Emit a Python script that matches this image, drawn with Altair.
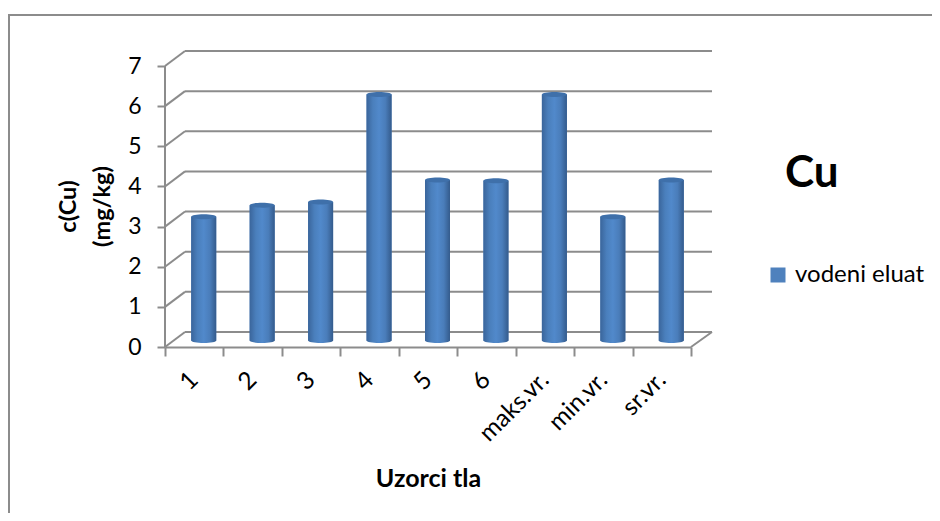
import altair as alt
import pandas as pd

categories = ["1", "2", "3", "4", "5", "6", "maks.vr.", "min.vr.", "sr.vr."]
values = [3.08, 3.37, 3.45, 6.13, 4.0, 3.98, 6.13, 3.08, 4.0]
series_name = "vodeni eluat"
grid_values = [0, 1, 2, 3, 4, 5, 6, 7]

FONT = "Lato"
GREY = "#8c8c8c"
W, H = 547, 296
FRONT_W = 526
DEPTH_X = 20
DEPTH_Y = 0.374
Y_MAX = 7.374

df = pd.DataFrame({"cat": categories, "val": values, "series": series_name, "zero": 0})

segments = []
for v in grid_values:
    segments.append({"x": DEPTH_X, "x2": W, "y": v + DEPTH_Y, "y2": v + DEPTH_Y})
    segments.append({"x": 0, "x2": DEPTH_X, "y": v, "y2": v + DEPTH_Y})
segments.append({"x": FRONT_W, "x2": W, "y": 0, "y2": DEPTH_Y})
segments.append({"x": 0, "x2": 0, "y": 0, "y2": 7})
seg = pd.DataFrame(segments)

yscale = alt.Scale(domain=[0, Y_MAX], nice=False, zero=False)
xq = alt.Scale(domain=[0, W], nice=False, zero=False)
xband = alt.Scale(type="band", domain=categories, range=[0, FRONT_W], paddingInner=0, paddingOuter=0)
yaxis = alt.Axis(
    values=grid_values, domain=False, grid=False, tickColor=GREY, tickWidth=2, tickSize=8,
    labelFont=FONT, labelFontSize=23, labelColor="#000000", labelPadding=16,
    title=["c(Cu)", "(mg/kg)"], titleFont=FONT, titleFontSize=23.5, titleFontWeight="bold",
    titleColor="#000000", titleLineHeight=34, titleX=-97, titleY=155, titleAngle=-90,
    titleAlign="center", titleBaseline="middle",
)
xaxis = alt.Axis(
    tickBand="extent", domainColor=GREY, domainWidth=2, tickColor=GREY, tickWidth=2, tickSize=9,
    grid=False, labelAngle=-45, labelAlign="right", labelBaseline="middle",
    labelFont=FONT, labelFontSize=24.5, labelColor="#000000", labelPadding=20,
    labelOverlap=False, labelBound=False, labelLimit=200,
    title="Uzorci tla", titleFont=FONT, titleFontSize=25, titleFontWeight="bold",
    titleColor="#000000", titleX=263, titleY=131, titleAlign="center", titleBaseline="middle",
)

frame = pd.DataFrame({"k": [0]})
border_top = alt.Chart(frame).mark_rule(color=GREY, strokeWidth=2).encode(
    x=alt.value(-157), x2=alt.value(775), y=alt.value(-36))
border_left = alt.Chart(frame).mark_rule(color=GREY, strokeWidth=2).encode(
    x=alt.value(-156), y=alt.value(-36), y2=alt.value(470))

rules = alt.Chart(seg).mark_rule(color=GREY, strokeWidth=2).encode(
    x=alt.X("x:Q", scale=xq, axis=None), x2="x2:Q",
    y=alt.Y("y:Q", scale=yscale, axis=yaxis), y2="y2:Q",
)

grad = alt.Gradient(
    gradient="linear", x1=0, x2=1, y1=0, y2=0,
    stops=[
        alt.GradientStop(offset=0, color="#3a659b"),
        alt.GradientStop(offset=0.25, color="#4a7fbc"),
        alt.GradientStop(offset=0.5, color="#5189cb"),
        alt.GradientStop(offset=0.75, color="#4a7dba"),
        alt.GradientStop(offset=1, color="#345b8c"),
    ],
)
OFFX, OFFY = 9.5, -6.5
base = alt.Chart(df)
legend = alt.Legend(
    orient="none", legendX=601, legendY=212, title=None, symbolType="square", symbolSize=225,
    symbolStrokeWidth=0, labelFont=FONT, labelFontSize=24, labelColor="#000000", labelOffset=5,
)
bars_solid = base.mark_bar(size=25, xOffset=OFFX, x2Offset=OFFX, yOffset=OFFY, y2Offset=OFFY).encode(
    x=alt.X("cat:N", scale=xband, sort=categories, axis=xaxis),
    y=alt.Y("val:Q", scale=yscale, axis=None, stack=None),
    y2="zero:Q",
    color=alt.Color("series:N", scale=alt.Scale(domain=[series_name], range=["#4f81bd"]), legend=legend),
)
bars_grad = base.mark_bar(size=25, xOffset=OFFX, x2Offset=OFFX, yOffset=OFFY, y2Offset=OFFY, fill=grad).encode(
    x=alt.X("cat:N", scale=xband, sort=categories, axis=None),
    y=alt.Y("val:Q", scale=yscale, axis=None, stack=None),
    y2="zero:Q",
)
ELLIPSE = "M-1,0 A1,0.2 0 1,0 1,0 A1,0.2 0 1,0 -1,0 Z"
bottoms = base.mark_point(
    shape=ELLIPSE, size=625, filled=True, fill=grad, opacity=1, strokeWidth=0, xOffset=OFFX, yOffset=OFFY
).encode(
    x=alt.X("cat:N", scale=xband, sort=categories, axis=None),
    y=alt.Y("zero:Q", scale=yscale, axis=None),
)
tops = base.mark_point(
    shape=ELLIPSE, size=625, filled=True, fill="#3f70aa", opacity=1, strokeWidth=0, xOffset=OFFX, yOffset=OFFY
).encode(
    x=alt.X("cat:N", scale=xband, sort=categories, axis=None),
    y=alt.Y("val:Q", scale=yscale, axis=None),
)

chart = alt.layer(border_top, border_left, rules, bars_solid, bars_grad, bottoms, tops).resolve_scale(
    x="independent"
).resolve_axis(y="independent").properties(
    width=W, height=H,
    title=alt.TitleParams(text="Cu", anchor="start", frame="group", dx=620, dy=186,
                          font=FONT, fontSize=44, fontWeight="bold", color="#000000"),
    autosize=alt.AutoSizeParams(type="none"),
    padding={"left": 157, "top": 43, "right": 220, "bottom": 166},
).configure_view(stroke=None)

chart.save("out.html", embed_options={"renderer": "svg", "actions": False})
